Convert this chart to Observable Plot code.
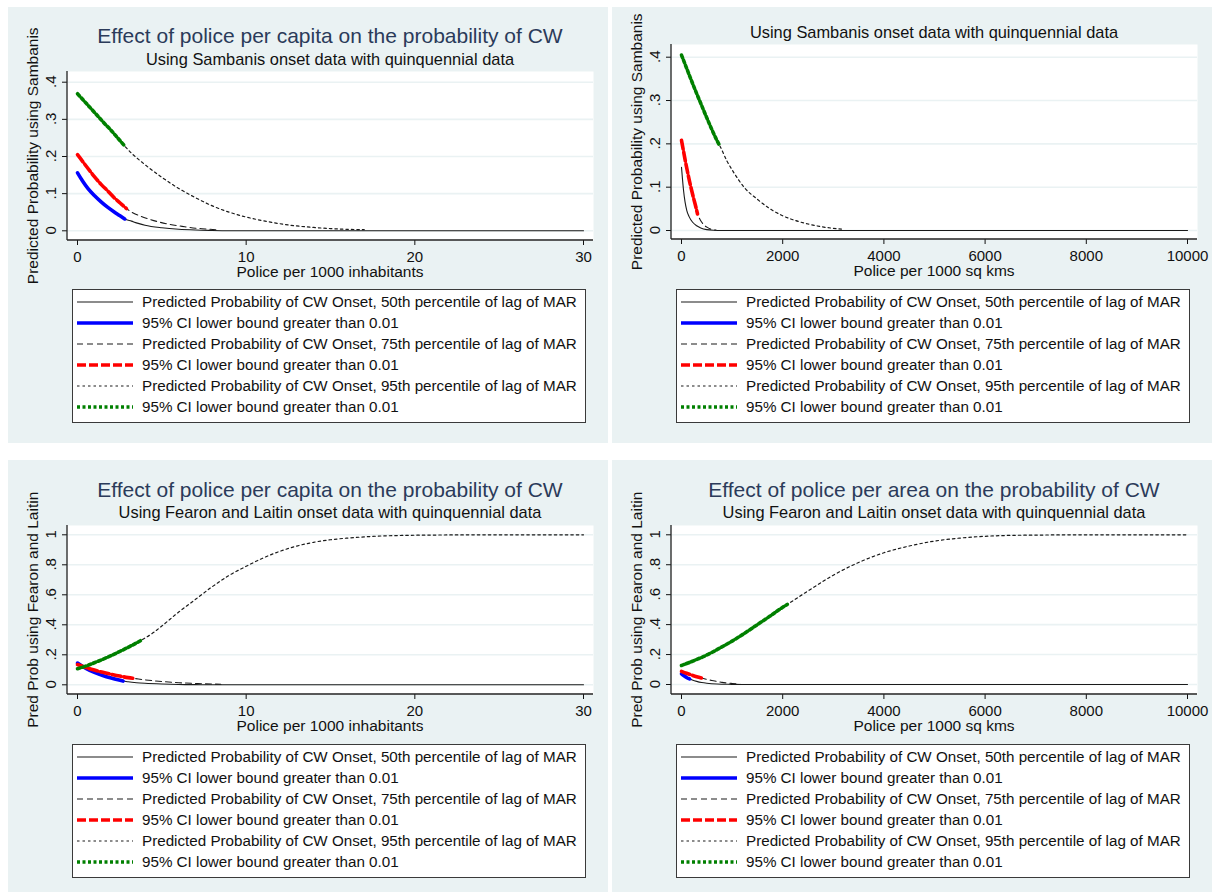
<!DOCTYPE html>
<html>
<head>
<meta charset="utf-8">
<script src="https://cdn.jsdelivr.net/npm/d3@7"></script>
<script src="https://cdn.jsdelivr.net/npm/@observablehq/plot@0.6"></script>
<style>
html,body{margin:0;padding:0;background:#fff;}
body{font-family:"Liberation Sans",Arial,Helvetica,sans-serif;color:#000;}
#root{position:relative;width:1214px;height:892px;overflow:hidden;}
.panel{position:absolute;background:#eaf2f3;}
.txt{position:absolute;white-space:nowrap;line-height:1;text-align:center;}
.title{font-size:21px;color:#2b3b5a;}
.subtitle{font-size:16.4px;color:#111;}
.axtitle{font-size:15.5px;color:#111;}
.legend{position:absolute;background:#fff;border:1px solid #3a3a3a;box-sizing:border-box;}
</style>
</head>
<body>
<div id="root"></div>
<script>
// ---------- DATA ----------
// Panel A: Sambanis onset, police per 1000 inhabitants
const aX50 = [0, 0.3, 0.6, 1, 1.4, 1.8, 2.2, 2.5, 2.8, 3.2, 3.6, 4, 5, 6, 7, 8, 10, 15, 20, 25, 30];
const aY50 = [0.156, 0.134, 0.115, 0.095, 0.078, 0.063, 0.05, 0.041, 0.032, 0.026, 0.02, 0.015, 0.008, 0.004, 0.002, 0.001, 0, 0, 0, 0, 0];
const aX75 = [0, 0.3, 0.6, 1, 1.4, 1.8, 2.2, 2.6, 2.9, 3.3, 3.7, 4.2, 4.8, 5.5, 6.2, 7, 7.6, 8.2];
const aY75 = [0.205, 0.187, 0.169, 0.146, 0.125, 0.107, 0.088, 0.072, 0.06, 0.048, 0.04, 0.032, 0.024, 0.017, 0.012, 0.007, 0.005, 0.003];
const aX95 = [0, 0.4, 0.8, 1.2, 1.6, 2, 2.4, 2.8, 3.2, 3.6, 4, 5, 6, 7, 8, 9, 10, 11, 12, 13, 14, 15, 16, 17];
const aY95 = [0.369, 0.349, 0.329, 0.309, 0.289, 0.27, 0.249, 0.228, 0.209, 0.193, 0.178, 0.144, 0.114, 0.089, 0.067, 0.05, 0.037, 0.027, 0.019, 0.013, 0.009, 0.006, 0.004, 0.003];
const aCut = [2.8, 2.9, 2.8];

// Panel B: Sambanis onset, police per 1000 sq kms
const bX50 = [0, 20, 40, 70, 105, 150, 220, 300, 380, 500, 640, 800, 1000, 2000, 4000, 6000, 8000, 10000];
const bY50 = [0.146, 0.118, 0.093, 0.066, 0.046, 0.032, 0.019, 0.011, 0.006, 0.002, 0.0005, 0, 0, 0, 0, 0, 0, 0];
const bX75 = [0, 40, 80, 120, 160, 200, 240, 280, 317, 350, 400, 450, 500, 580, 680];
const bY75 = [0.208, 0.183, 0.158, 0.135, 0.113, 0.093, 0.074, 0.056, 0.038, 0.029, 0.019, 0.012, 0.008, 0.003, 0.001];
const bX95 = [0, 100, 200, 300, 400, 500, 600, 700, 760, 900, 1000, 1250, 1500, 1750, 2000, 2250, 2500, 2750, 3000, 3200];
const bY95 = [0.405, 0.375, 0.345, 0.316, 0.288, 0.26, 0.233, 0.208, 0.195, 0.16, 0.14, 0.098, 0.072, 0.05, 0.034, 0.023, 0.015, 0.009, 0.005, 0.003];
const bCut = [null, 317, 760];

// Panel C: Fearon and Laitin onset, police per 1000 inhabitants
const cX50 = [0, 0.5, 1, 1.5, 2, 2.4, 2.7, 3, 3.5, 4, 5, 6, 7, 8, 10, 15, 20, 25, 30];
const cY50 = [0.145, 0.11, 0.083, 0.062, 0.045, 0.033, 0.025, 0.02, 0.014, 0.01, 0.005, 0.002, 0.001, 0, 0, 0, 0, 0, 0];
const cX75 = [0, 0.5, 1, 1.5, 2, 2.5, 3, 3.4, 4, 4.5, 5, 6, 7, 8, 8.5];
const cY75 = [0.135, 0.115, 0.098, 0.083, 0.07, 0.058, 0.048, 0.042, 0.033, 0.027, 0.022, 0.014, 0.009, 0.005, 0.004];
const cX95 = [0, 0.5, 1, 1.5, 2, 2.5, 3, 3.5, 3.75, 4.5, 5, 6, 7, 8, 9, 10, 11, 12, 13, 14, 15, 16, 17, 18, 19, 20, 22, 25, 30];
const cY95 = [0.107, 0.125, 0.147, 0.17, 0.195, 0.222, 0.25, 0.279, 0.295, 0.348, 0.392, 0.485, 0.57, 0.655, 0.73, 0.79, 0.845, 0.89, 0.925, 0.95, 0.967, 0.978, 0.986, 0.992, 0.995, 0.997, 0.999, 1, 1];
const cCut = [2.7, 3.4, 3.75];

// Panel D: Fearon and Laitin onset, police per 1000 sq kms
const dX50 = [0, 50, 100, 160, 200, 300, 400, 500, 700, 1000, 1200, 2000, 4000, 6000, 8000, 10000];
const dY50 = [0.071, 0.058, 0.047, 0.037, 0.032, 0.021, 0.013, 0.008, 0.003, 0.001, 0, 0, 0, 0, 0, 0];
const dX75 = [0, 100, 200, 300, 410, 500, 600, 700, 800, 900, 1000, 1125];
const dY75 = [0.088, 0.075, 0.063, 0.052, 0.042, 0.034, 0.027, 0.02, 0.014, 0.01, 0.007, 0.004];
const dX95 = [0, 250, 500, 750, 1000, 1250, 1500, 1750, 2000, 2090, 2500, 3000, 3500, 4000, 4500, 5000, 5500, 6000, 6500, 7000, 8000, 9000, 10000];
const dY95 = [0.127, 0.16, 0.197, 0.242, 0.29, 0.343, 0.4, 0.457, 0.516, 0.535, 0.625, 0.73, 0.815, 0.88, 0.925, 0.958, 0.978, 0.99, 0.996, 0.998, 1, 1, 1];
const dCut = [160, 410, 2090];

// Ticks
const ticksProbS = [0, 0.1, 0.2, 0.3, 0.4];
const labelsProbS = ["0", ".1", ".2", ".3", ".4"];
const ticksProbF = [0, 0.2, 0.4, 0.6, 0.8, 1];
const labelsProbF = ["0", ".2", ".4", ".6", ".8", "1"];
const ticksCapita = [0, 10, 20, 30];
const labelsCapita = ["0", "10", "20", "30"];
const ticksArea = [0, 2000, 4000, 6000, 8000, 10000];
const labelsArea = ["0", "2000", "4000", "6000", "8000", "10000"];

const legendLabels = [
  "Predicted Probability of CW Onset, 50th percentile of lag of MAR",
  "95% CI lower bound greater than 0.01",
  "Predicted Probability of CW Onset, 75th percentile of lag of MAR",
  "95% CI lower bound greater than 0.01",
  "Predicted Probability of CW Onset, 95th percentile of lag of MAR",
  "95% CI lower bound greater than 0.01"
];

// ---------- STYLE ----------
const FONT = '"Liberation Sans", Arial, Helvetica, sans-serif';
const STY = [
  {stroke: "#1a1a1a", strokeWidth: 1.1},
  {stroke: "#0000ff", strokeWidth: 3.6},
  {stroke: "#1a1a1a", strokeWidth: 1.1, strokeDasharray: "6,4"},
  {stroke: "#ff0000", strokeWidth: 3.6, strokeDasharray: "9,3"},
  {stroke: "#1a1a1a", strokeWidth: 1.2, strokeDasharray: "2.5,3"},
  {stroke: "#008000", strokeWidth: 3.6, strokeDasharray: "3,2.5"}
];

const panels = [
  {left: 8, top: 7, h: 436, title: "Effect of police per capita on the probability of CW", titleY: 28,
   subtitle: "Using Sambanis onset data with quinquennial data", subY: 52, plotTop: 64, axisY: 233, insetTop: 10.7, insetBottom: 9.7,
   xs: [aX50, aX75, aX95], ys: [aY50, aY75, aY95], cut: aCut, xDomain: [0, 30], yDomain: [0, 0.4],
   xTicks: ticksCapita, xLabels: labelsCapita, yTicks: ticksProbS, yLabels: labelsProbS,
   xTitle: "Police per 1000 inhabitants", yTitle: "Predicted Probability using Sambanis", legTop: 282},
  {left: 612, top: 7, h: 436, title: null, titleY: 0,
   subtitle: "Using Sambanis onset data with quinquennial data", subY: 25, plotTop: 37, axisY: 232, insetTop: 12.7, insetBottom: 9,
   xs: [bX50, bX75, bX95], ys: [bY50, bY75, bY95], cut: bCut, xDomain: [0, 10000], yDomain: [0, 0.4],
   xTicks: ticksArea, xLabels: labelsArea, yTicks: ticksProbS, yLabels: labelsProbS,
   xTitle: "Police per 1000 sq kms", yTitle: "Predicted Probability using Sambanis", legTop: 282},
  {left: 8, top: 460, h: 432, title: "Effect of police per capita on the probability of CW", titleY: 29,
   subtitle: "Using Fearon and Laitin onset data with quinquennial data", subY: 52, plotTop: 65, axisY: 234, insetTop: 9.3, insetBottom: 9.7,
   xs: [cX50, cX75, cX95], ys: [cY50, cY75, cY95], cut: cCut, xDomain: [0, 30], yDomain: [0, 1],
   xTicks: ticksCapita, xLabels: labelsCapita, yTicks: ticksProbF, yLabels: labelsProbF,
   xTitle: "Police per 1000 inhabitants", yTitle: "Pred Prob using Fearon and Laitin", legTop: 284},
  {left: 612, top: 460, h: 432, title: "Effect of police per area on the probability of CW", titleY: 29,
   subtitle: "Using Fearon and Laitin onset data with quinquennial data", subY: 52, plotTop: 65, axisY: 234, insetTop: 9.3, insetBottom: 10,
   xs: [dX50, dX75, dX95], ys: [dY50, dY75, dY95], cut: dCut, xDomain: [0, 10000], yDomain: [0, 1],
   xTicks: ticksArea, xLabels: labelsArea, yTicks: ticksProbF, yLabels: labelsProbF,
   xTitle: "Police per 1000 sq kms", yTitle: "Pred Prob using Fearon and Laitin", legTop: 284}
];

const root = document.getElementById("root");

function addText(parent, cls, text, cx, cy, fs, rotate) {
  const el = document.createElement("div");
  el.className = "txt " + cls;
  el.textContent = text;
  const w = 600;
  el.style.width = w + "px";
  el.style.left = (cx - w / 2) + "px";
  el.style.top = (cy - fs / 2) + "px";
  el.style.height = fs + "px";
  if (rotate) el.style.transform = "rotate(-90deg)";
  parent.appendChild(el);
  return el;
}

function rowsOf(xs, ys) { return xs.map((x, i) => ({x, y: ys[i]})); }

function makePanel(p) {
  const div = document.createElement("div");
  div.className = "panel";
  Object.assign(div.style, {left: p.left + "px", top: p.top + "px", width: "600px", height: p.h + "px"});
  root.appendChild(div);

  const W = 600, ML = 59, MR = 15, MB = 50;
  const H = p.axisY + MB;
  const cx = (ML + W - MR) / 2;

  const marks = [
    Plot.frame({fill: "#ffffff", stroke: "none"}),
    Plot.gridY(p.yTicks, {stroke: "#eaf2f3", strokeOpacity: 1, strokeWidth: 1.6}),
    Plot.axisY(p.yTicks, {tickSize: 5, label: null, tickFormat: () => ""}),
    Plot.axisX(p.xTicks, {tickSize: 5, tickPadding: 6, label: null, fontSize: 15,
      tickFormat: d => p.xLabels[p.xTicks.indexOf(d)]})
  ];
  for (let k = 0; k < 3; k++) {
    const rows = rowsOf(p.xs[k], p.ys[k]);
    marks.push(Plot.line(rows, {x: "x", y: "y", curve: "monotone-x", ...STY[2 * k]}));
    if (p.cut[k] != null) {
      marks.push(Plot.line(rows.filter(d => d.x <= p.cut[k]), {x: "x", y: "y", curve: "monotone-x", ...STY[2 * k + 1]}));
    }
  }

  const svg = Plot.plot({
    width: W, height: H,
    marginLeft: ML, marginRight: MR, marginTop: p.plotTop, marginBottom: MB,
    style: {background: "transparent", fontFamily: FONT, fontSize: "15px", color: "#111", overflow: "visible", position: "absolute", left: "0px", top: "0px"},
    x: {domain: p.xDomain, insetLeft: 10, insetRight: 10, label: null},
    y: {domain: p.yDomain, insetTop: p.insetTop, insetBottom: p.insetBottom, label: null},
    marks
  });
  div.appendChild(svg);
  const sel = d3.select(svg);
  // axis lines (left and bottom of the plot region)
  const g = sel.append("g").attr("stroke", "#222").attr("stroke-width", 1.3);
  g.append("line").attr("x1", ML).attr("x2", ML).attr("y1", p.plotTop).attr("y2", H - MB);
  g.append("line").attr("x1", ML).attr("x2", W - MR).attr("y1", H - MB).attr("y2", H - MB);
  // rotated y tick labels, positioned with the plot's own y scale
  const yScale = svg.scale("y");
  const tx = ML - 16;
  sel.append("g").attr("font-family", FONT).attr("font-size", 15).attr("fill", "#111")
    .attr("text-anchor", "middle")
    .selectAll("text").data(p.yTicks).join("text")
    .attr("transform", d => `translate(${tx},${yScale.apply(d)}) rotate(-90)`)
    .attr("dy", "0.35em")
    .text((d, i) => p.yLabels[i]);

  if (p.title) addText(div, "title", p.title, cx, p.titleY, 21);
  addText(div, "subtitle", p.subtitle, cx, p.subY, 16.4);
  addText(div, "axtitle", p.xTitle, cx, p.axisY + 32, 15.5);
  addText(div, "axtitle", p.yTitle, 25, (p.plotTop + p.axisY) / 2, 15.5, true);

  // legend
  const leg = document.createElement("div");
  leg.className = "legend";
  Object.assign(leg.style, {left: "64px", top: p.legTop + "px", width: "514px", height: "134px"});
  div.appendChild(leg);
  const ls = d3.select(leg).append("svg").attr("width", 512).attr("height", 132)
    .style("position", "absolute").style("left", "0px").style("top", "0px");
  legendLabels.forEach((lab, i) => {
    const cy = 12 + i * 21;
    const s = STY[i];
    ls.append("line").attr("x1", 4).attr("x2", 60).attr("y1", cy).attr("y2", cy)
      .attr("stroke", s.stroke).attr("stroke-width", s.strokeWidth)
      .attr("stroke-dasharray", s.strokeDasharray || null);
    ls.append("text").attr("x", 69).attr("y", cy + 5.3).attr("font-family", FONT).attr("font-size", 15.2)
      .attr("fill", "#111").text(lab);
  });
}

panels.forEach(makePanel);
</script>
</body>
</html>
